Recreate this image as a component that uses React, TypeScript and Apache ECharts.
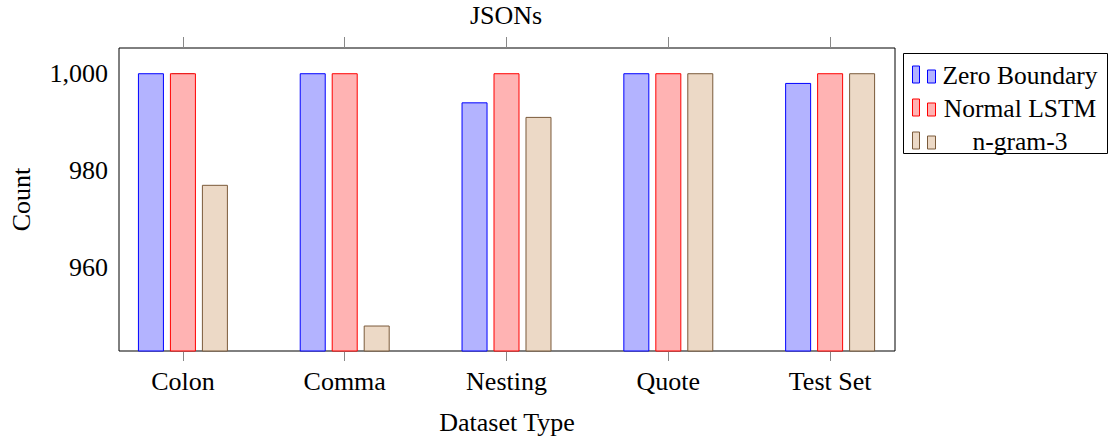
import React, { useEffect, useRef } from "react";
import * as echarts from "echarts";

const categories = ["Colon", "Comma", "Nesting", "Quote", "Test Set"];
const seriesNames = ["Zero Boundary", "Normal LSTM", "n-gram-3"];
const zeroBoundary = [1000, 1000, 994, 1000, 998];
const normalLSTM = [1000, 1000, 1000, 1000, 1000];
const ngram3 = [977, 948, 991, 1000, 1000];
const yTicks = [960, 980, 1000];
const xTicks = [0, 1, 2, 3, 4];

const fills = ["#b3b3ff", "#ffb3b3", "#ecd9c6"];
const strokes = ["#0000ff", "#ff0000", "#7a5a3a"];

const FONT = "Liberation Serif";
const FS = 26;

export default function App() {
  const ref = useRef<HTMLDivElement>(null);
  useEffect(() => {
    document.body.style.margin = "0";
    const chart = echarts.init(ref.current!, null, { renderer: "svg" });
    const values = [zeroBoundary, normalLSTM, ngram3];
    const xMin = -0.395;
    const xMax = 4.401;
    const yMin = 942.75;
    const yMax = 1005.2;
    const tickStyle = { color: "#888", width: 1 };
    const rowY = [75, 108, 141];
    const legendChildren: any[] = [
      {
        type: "rect",
        shape: { x: 903.5, y: 53.5, width: 204, height: 100 },
        style: { fill: "#fff", stroke: "#000", lineWidth: 1 },
      },
    ];
    seriesNames.forEach((n, i) => {
      const c = rowY[i];
      legendChildren.push({
        type: "rect",
        shape: { x: 912.5, y: c - 9, width: 7, height: 17 },
        style: { fill: fills[i], stroke: strokes[i], lineWidth: 1 },
      });
      legendChildren.push({
        type: "rect",
        shape: { x: 927.5, y: c - 5, width: 8, height: 13 },
        style: { fill: fills[i], stroke: strokes[i], lineWidth: 1 },
      });
      legendChildren.push({
        type: "text",
        x: 1020,
        y: c,
        style: {
          text: n,
          fontFamily: FONT,
          fontSize: 25.5,
          fill: "#000",
          align: "center",
          verticalAlign: "middle",
        },
      });
    });

    chart.setOption({
      animation: false,
      title: {
        text: "JSONs",
        left: 506,
        top: 2,
        textAlign: "center",
        padding: 0,
        textStyle: { fontFamily: FONT, fontSize: FS, fontWeight: "normal", color: "#000" },
      },
      grid: {
        left: 118,
        right: 221,
        top: 48,
        bottom: 88,
        show: true,
        borderColor: "#000",
        borderWidth: 1,
        backgroundColor: "transparent",
      },
      xAxis: [
        {
          type: "value",
          position: "bottom",
          min: xMin,
          max: xMax,
          axisLine: { show: false },
          splitLine: { show: false },
          axisTick: { show: true, length: 10, customValues: xTicks, lineStyle: tickStyle },
          axisLabel: {
            customValues: xTicks,
            formatter: (v: number) => categories[Math.round(v)] ?? "",
            fontFamily: FONT,
            fontSize: FS,
            color: "#000",
            margin: 17,
          },
          name: "Dataset Type",
          nameLocation: "middle",
          nameGap: 58,
          nameTextStyle: { fontFamily: FONT, fontSize: FS, color: "#000" },
        },
        {
          type: "value",
          position: "top",
          min: xMin,
          max: xMax,
          axisLine: { show: false },
          splitLine: { show: false },
          axisTick: { show: true, length: 11, customValues: xTicks, lineStyle: tickStyle },
          axisLabel: { show: false },
        },
      ],
      yAxis: [
        {
          type: "value",
          position: "left",
          min: yMin,
          max: yMax,
          axisLine: { show: false },
          splitLine: { show: false },
          axisTick: { show: true, inside: true, length: 11, customValues: yTicks, lineStyle: tickStyle },
          axisLabel: {
            customValues: yTicks,
            formatter: (v: number) => v.toLocaleString("en-US"),
            fontFamily: FONT,
            fontSize: FS,
            color: "#000",
            margin: 11,
          },
          name: "Count",
          nameLocation: "middle",
          nameGap: 85,
          nameRotate: 90,
          nameTextStyle: { fontFamily: FONT, fontSize: FS, color: "#000" },
        },
        {
          type: "value",
          position: "right",
          min: yMin,
          max: yMax,
          axisLine: { show: false },
          splitLine: { show: false },
          axisTick: { show: true, inside: true, length: 11, customValues: yTicks, lineStyle: tickStyle },
          axisLabel: { show: false },
        },
      ],
      series: seriesNames.map((n, i) => ({
        name: n,
        type: "bar",
        xAxisIndex: 0,
        yAxisIndex: 0,
        barWidth: 26,
        barGap: "23%",
        data: categories.map((_, j) => [j, values[i][j]]),
        itemStyle: { color: fills[i], borderColor: strokes[i], borderWidth: 1 },
      })),
      graphic: [{ type: "group", children: legendChildren }],
    });
    return () => chart.dispose();
  }, []);
  return <div ref={ref} style={{ width: 1116, height: 440 }} />;
}
